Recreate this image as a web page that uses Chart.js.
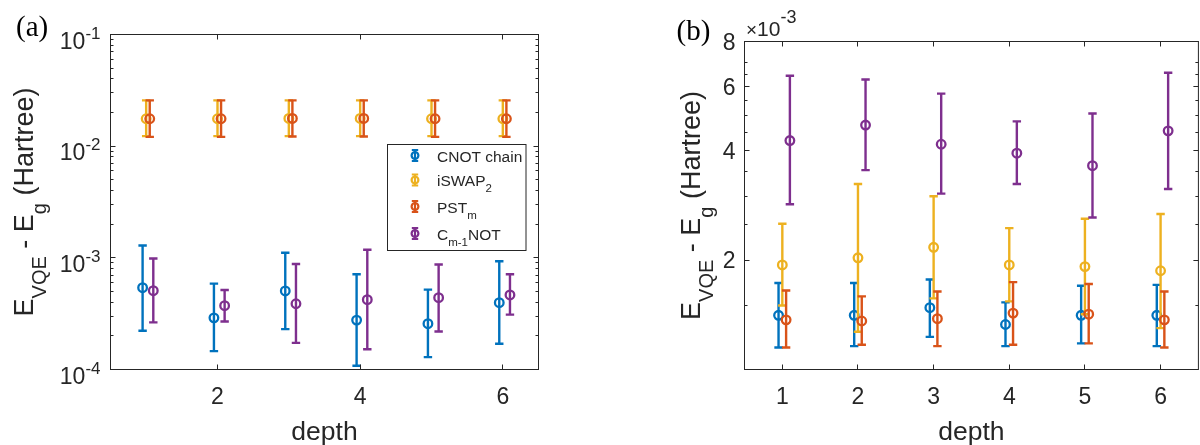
<!DOCTYPE html>
<html>
<head>
<meta charset="utf-8">
<script src="https://cdn.jsdelivr.net/npm/chart.js@4.4.0/dist/chart.umd.min.js"></script>
<style>
  html, body { margin: 0; padding: 0; background: #fff; width: 1200px; height: 445px; overflow: hidden; }
  #chartA { position: absolute; left: 0; top: 0; }
  #chartB { position: absolute; left: 600px; top: 0; }
</style>
</head>
<body>
<canvas id="chartA" width="600" height="445"></canvas>
<canvas id="chartB" width="605" height="445"></canvas>
<script>
// ---- data ----
const depth = [1, 2, 3, 4, 5, 6];
const seriesColors = ["#0072BD", "#EDB120", "#D95319", "#7E2F8E"];
const seriesDodge = [-0.05, 0, 0.05, 0.1];
// legend text; second item of each run = 1 for subscript
const legendRuns = [
  [["CNOT chain", 0]],
  [["iSWAP", 0], ["2", 1]],
  [["PST", 0], ["m", 1]],
  [["C", 0], ["m-1", 1], ["NOT", 0]],
];

// panel (a): E_VQE - E_g (Hartree)
const aCnot     = [5.4e-4, 2.9e-4, 5.05e-4, 2.77e-4, 2.57e-4, 3.97e-4];
const aCnotLo   = [2.22e-4, 1.46e-4, 2.30e-4, 1.08e-4, 1.29e-4, 1.70e-4];
const aCnotHi   = [1.29e-3, 5.88e-4, 1.11e-3, 7.13e-4, 5.19e-4, 9.33e-4];
const aIswap    = [0.0176, 0.0176, 0.0177, 0.0177, 0.0176, 0.0176];
const aIswapLo  = [0.0123, 0.0123, 0.0123, 0.0123, 0.0123, 0.0123];
const aIswapHi  = [0.0257, 0.0257, 0.0257, 0.0257, 0.0257, 0.0257];
const aPst      = [0.0176, 0.0176, 0.0177, 0.0177, 0.0176, 0.0176];
const aPstLo    = [0.0121, 0.0121, 0.0122, 0.0122, 0.0121, 0.0121];
const aPstHi    = [0.0257, 0.0257, 0.0257, 0.0257, 0.0257, 0.0257];
const aCm1      = [5.08e-4, 3.73e-4, 3.88e-4, 4.22e-4, 4.40e-4, 4.65e-4];
const aCm1Lo    = [2.64e-4, 2.69e-4, 1.73e-4, 1.52e-4, 2.19e-4, 3.10e-4];
const aCm1Hi    = [9.86e-4, 5.15e-4, 8.81e-4, 1.18e-3, 8.71e-4, 7.13e-4];

// panel (b): same quantity, in units of 1e-3 Hartree
const bCnot     = [1.41, 1.41, 1.48, 1.33, 1.41, 1.41];
const bCnotLo   = [1.15, 1.16, 1.23, 1.16, 1.18, 1.16];
const bCnotHi   = [1.73, 1.73, 1.77, 1.53, 1.70, 1.71];
const bIswap    = [1.94, 2.03, 2.17, 1.94, 1.92, 1.87];
const bIswapLo  = [1.50, 1.27, 1.57, 1.54, 1.42, 1.30];
const bIswapHi  = [2.52, 3.24, 3.00, 2.45, 2.60, 2.68];
const bPst      = [1.37, 1.36, 1.38, 1.43, 1.42, 1.37];
const bPstLo    = [1.15, 1.17, 1.16, 1.17, 1.18, 1.15];
const bPstHi    = [1.65, 1.59, 1.64, 1.74, 1.72, 1.64];
const bCm1      = [4.27, 4.71, 4.17, 3.94, 3.64, 4.54];
const bCm1Lo    = [2.85, 3.54, 3.05, 3.24, 2.62, 3.14];
const bCm1Hi    = [6.44, 6.29, 5.75, 4.82, 5.07, 6.56];

// ticks
const aXTicks = [2, 4, 6];
const aYTicks = [1e-4, 1e-3, 1e-2, 1e-1];
const aYTickExp = ["-4", "-3", "-2", "-1"];
const aYMinor = [];
[1e-4, 1e-3, 1e-2].forEach(d => { for (let k = 2; k <= 9; k++) aYMinor.push(d * k); });
const bXTicks = [1, 2, 3, 4, 5, 6];
const bYTicks = [2, 4, 6, 8];
const bYMinor = [1.5, 2.5, 3, 3.5, 4.5, 5, 5.5, 6.5, 7];

const AXIS = "#262626";
const SANS = '"Liberation Sans", Arial, sans-serif';
const SERIF = '"Liberation Serif", "Times New Roman", serif';

// draw a line of text made of runs [text, size, shift] (shift > 0 = down)
function drawRuns(ctx, runs, x, y, align) {
  let w = 0;
  runs.forEach(r => { ctx.font = r[1] + "px " + SANS; w += ctx.measureText(r[0]).width; });
  let cx = align === "center" ? x - w / 2 : align === "right" ? x - w : x;
  ctx.textAlign = "left";
  ctx.textBaseline = "alphabetic";
  runs.forEach(r => {
    ctx.font = r[1] + "px " + SANS;
    ctx.fillText(r[0], cx, y + r[2]);
    cx += ctx.measureText(r[0]).width;
  });
}

const yTitleRuns = [["E", 27, 0], ["VQE", 20, 13], [" - E", 27, 0], ["g", 20, 13], [" (Hartree)", 27, 0]];

// error bars drawn under each dataset's markers
const errorBars = {
  id: "errorBars",
  beforeDatasetDraw(chart, args) {
    const ds = chart.data.datasets[args.index];
    const xs = chart.scales.x, ys = chart.scales.y, ctx = chart.ctx;
    ctx.save();
    ctx.strokeStyle = ds.borderColor;
    ctx.lineWidth = 2.4;
    ds.data.forEach((p, i) => {
      const px = xs.getPixelForValue(p.x);
      const top = ys.getPixelForValue(ds.errHigh[i]);
      const bot = ys.getPixelForValue(ds.errLow[i]);
      ctx.beginPath();
      ctx.moveTo(px, top); ctx.lineTo(px, bot);
      ctx.moveTo(px - 4.2, top); ctx.lineTo(px + 4.2, top);
      ctx.moveTo(px - 4.2, bot); ctx.lineTo(px + 4.2, bot);
      ctx.stroke();
    });
    ctx.restore();
  }
};

function errIcon(ctx, x, y, color) {
  ctx.save();
  ctx.strokeStyle = color;
  ctx.lineWidth = 2.2;
  ctx.beginPath();
  ctx.moveTo(x, y - 5.5); ctx.lineTo(x, y + 5.5);
  ctx.moveTo(x - 3.2, y - 5.5); ctx.lineTo(x + 3.2, y - 5.5);
  ctx.moveTo(x - 3.2, y + 5.5); ctx.lineTo(x + 3.2, y + 5.5);
  ctx.stroke();
  ctx.beginPath();
  ctx.arc(x, y, 3.4, 0, Math.PI * 2);
  ctx.stroke();
  ctx.restore();
}

function framePlugin(p) {
  return {
    id: "frame",
    afterDraw(chart) {
      const ctx = chart.ctx, a = chart.chartArea;
      const xs = chart.scales.x, ys = chart.scales.y;
      ctx.save();
      ctx.strokeStyle = AXIS;
      ctx.lineWidth = 1;
      ctx.strokeRect(a.left, a.top, a.right - a.left, a.bottom - a.top);
      ctx.beginPath();
      p.xTicks.forEach(v => {
        const x = Math.floor(xs.getPixelForValue(v)) + 0.5;
        ctx.moveTo(x, a.bottom); ctx.lineTo(x, a.bottom - 5);
        ctx.moveTo(x, a.top); ctx.lineTo(x, a.top + 5);
      });
      const yTick = (v, len) => {
        const y = Math.floor(ys.getPixelForValue(v)) + 0.5;
        ctx.moveTo(a.left, y); ctx.lineTo(a.left + len, y);
        ctx.moveTo(a.right, y); ctx.lineTo(a.right - len, y);
      };
      p.yTicks.forEach(v => yTick(v, 5));
      p.yMinor.forEach(v => yTick(v, 3));
      ctx.stroke();

      ctx.fillStyle = AXIS;
      p.xTicks.forEach(v => drawRuns(ctx, [[String(v), 23, 0]], xs.getPixelForValue(v), a.bottom + 34, "center"));
      p.yTicks.forEach((v, i) => drawRuns(ctx, p.yTickRuns(i), p.yLabelRight, ys.getPixelForValue(v) + p.yLabelDy, "right"));
      drawRuns(ctx, [["depth", 26.5, 0]], (a.left + a.right) / 2, 440, "center");

      ctx.save();
      ctx.translate(p.yTitleX, (a.top + a.bottom) / 2);
      ctx.rotate(-Math.PI / 2);
      drawRuns(ctx, yTitleRuns, 0, 0, "center");
      ctx.restore();

      ctx.font = "29px " + SERIF;
      ctx.textAlign = "left";
      ctx.fillStyle = "#000";
      ctx.fillText(p.letter, p.letterX, p.letterY);
      ctx.fillStyle = AXIS;

      if (p.extra) p.extra(ctx, a);
      ctx.restore();
    }
  };
}

function makeDatasets(vals, lows, highs) {
  return vals.map((v, s) => ({
    label: legendRuns[s].map(r => r[0]).join(""),
    data: depth.map((d, i) => ({ x: d + seriesDodge[s], y: v[i] })),
    errLow: lows[s],
    errHigh: highs[s],
    borderColor: seriesColors[s],
    pointBorderColor: seriesColors[s],
    pointBackgroundColor: "rgba(0,0,0,0)",
    pointRadius: 4.3,
    pointHoverRadius: 4.3,
    pointBorderWidth: 2.3,
    showLine: false,
    order: 4 - s,
  }));
}

function baseOptions(pad, yType, yMin, yMax) {
  return {
    responsive: false,
    animation: false,
    events: [],
    layout: { padding: pad },
    plugins: { legend: { display: false }, tooltip: { enabled: false } },
    scales: {
      x: { type: "linear", min: 0.5, max: 6.5, display: false },
      y: { type: yType, min: yMin, max: yMax, display: false },
    },
  };
}

// panel (a)
new Chart(document.getElementById("chartA"), {
  type: "scatter",
  data: {
    datasets: makeDatasets(
      [aCnot, aIswap, aPst, aCm1],
      [aCnotLo, aIswapLo, aPstLo, aCm1Lo],
      [aCnotHi, aIswapHi, aPstHi, aCm1Hi])
  },
  options: baseOptions({ left: 110.5, top: 34.5, right: 61.5, bottom: 75.5 }, "logarithmic", 1e-4, 1e-1),
  plugins: [errorBars, framePlugin({
    xTicks: aXTicks, yTicks: aYTicks, yMinor: aYMinor,
    yTickRuns: i => [["10", 23, 0], [aYTickExp[i], 17, -10]],
    yLabelRight: 100.5, yLabelDy: 14,
    yTitleX: 33, letter: "(a)", letterX: 16, letterY: 36,
    extra: (ctx) => {
      // legend box
      ctx.fillStyle = "#fff";
      ctx.fillRect(387.5, 144.5, 138.5, 106);
      ctx.strokeStyle = AXIS;
      ctx.lineWidth = 1;
      ctx.strokeRect(387.5, 144.5, 138.5, 106);
      const rowY = [155.5, 180, 206.5, 233.5];
      legendRuns.forEach((runs, s) => {
        errIcon(ctx, 415, rowY[s], seriesColors[s]);
        ctx.fillStyle = AXIS;
        drawRuns(ctx, runs.map(r => r[1] ? [r[0], 11.5, 6] : [r[0], 15.5, 0]), 437, rowY[s] + 6, "left");
      });
    }
  })]
});

// panel (b)
new Chart(document.getElementById("chartB"), {
  type: "scatter",
  data: {
    datasets: makeDatasets(
      [bCnot, bIswap, bPst, bCm1],
      [bCnotLo, bIswapLo, bPstLo, bCm1Lo],
      [bCnotHi, bIswapHi, bPstHi, bCm1Hi])
  },
  options: baseOptions({ left: 144.5, top: 41.5, right: 2.5, bottom: 75.5 }, "logarithmic", 1, 8),
  plugins: [errorBars, framePlugin({
    xTicks: bXTicks, yTicks: bYTicks, yMinor: bYMinor,
    yTickRuns: i => [[String(bYTicks[i]), 23, 0]],
    yLabelRight: 135.5, yLabelDy: 8.2,
    yTitleX: 100, letter: "(b)", letterX: 76.5, letterY: 39.5,
    extra: (ctx) => {
      ctx.fillStyle = AXIS;
      drawRuns(ctx, [["\u00d7", 19, 0], ["10", 21, 0], ["-3", 18, -13]], 146, 35.5, "left");
    }
  })]
});
</script>
</body>
</html>
